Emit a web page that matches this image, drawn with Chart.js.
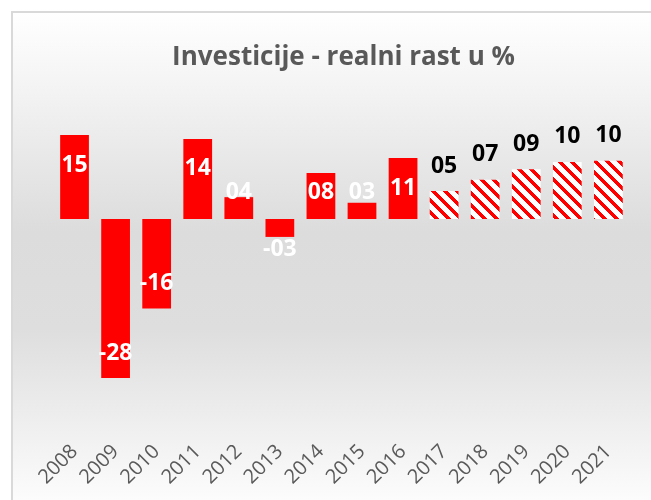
<!DOCTYPE html>
<html>
<head>
<meta charset="utf-8">
<script src="https://cdn.jsdelivr.net/npm/chart.js@4.4.1/dist/chart.umd.min.js"></script>
<style>
  html, body { margin: 0; padding: 0; background: #fff; }
  #wrap { position: relative; width: 651px; height: 500px; }
</style>
</head>
<body>
<div id="wrap"><canvas id="chart" width="651" height="500"></canvas></div>
<script>
// ── Data ─────────────────────────────────────────────────────────────── //
const years     = ['2008', '2009', '2010', '2011', '2012', '2013', '2014',
                   '2015', '2016', '2017', '2018', '2019', '2020', '2021'];
const growth    = [15, -28.4, -16, 14.3, 3.9, -3.2, 8.2, 2.9, 10.9, 5.0, 7.0, 8.9, 10.2, 10.4];
const projected = [false, false, false, false, false, false, false,
                   false, false, true, true, true, true, true];
const chartTitle = 'Investicije - realni rast u %';

const RED = '#ff0000';
const FONT = '"Open Sans", "DejaVu Sans", sans-serif';

// Diagonal red / white stripes for the projection bars
function makeStripes() {
  const size = 12;
  const c = document.createElement('canvas');
  c.width = size; c.height = size;
  const g = c.getContext('2d');
  g.fillStyle = '#ffffff';
  g.fillRect(0, 0, size, size);
  g.fillStyle = RED;
  for (let y = 0; y < size; y++) {
    for (let x = 0; x < size; x++) {
      if (((x - y) % size + size) % size < 5) g.fillRect(x, y, 1, 1);
    }
  }
  return g.createPattern(c, 'repeat');
}

function fmtLabel(v) {
  const n = Math.round(Math.abs(v));
  return (v < 0 ? '-' : '') + (n < 10 ? '0' + n : String(n));
}

// ── Plugins ──────────────────────────────────────────────────────────── //
const cardBackground = {
  id: 'cardBackground',
  beforeDraw(chart) {
    const ctx = chart.ctx;
    const w = chart.width, h = chart.height;
    ctx.save();
    ctx.fillStyle = '#ffffff';
    ctx.fillRect(0, 0, w, h);
    const grad = ctx.createLinearGradient(0, 12, 0, h);
    grad.addColorStop(0, '#ffffff');
    grad.addColorStop(0.15, '#f4f4f4');
    grad.addColorStop(0.45, '#dcdcdc');
    grad.addColorStop(0.65, '#dedede');
    grad.addColorStop(0.85, '#efefef');
    grad.addColorStop(1, '#fcfcfc');
    ctx.fillStyle = grad;
    ctx.fillRect(12, 12, w - 12, h - 12);
    ctx.strokeStyle = '#d9d9d9';
    ctx.lineWidth = 2;
    ctx.beginPath();
    ctx.moveTo(12, h);
    ctx.lineTo(12, 12);
    ctx.lineTo(w, 12);
    ctx.stroke();
    ctx.restore();
  }
};

const barLabels = {
  id: 'barLabels',
  afterDatasetsDraw(chart) {
    const ctx = chart.ctx;
    const meta = chart.getDatasetMeta(0);
    const zero = chart.scales.y.getPixelForValue(0);
    ctx.save();
    ctx.font = 'bold 23px ' + FONT;
    ctx.textAlign = 'center';
    ctx.textBaseline = 'middle';
    meta.data.forEach(function (bar, i) {
      const v = growth[i];
      let y;
      if (projected[i]) {
        ctx.fillStyle = '#000000';
        y = bar.y - 25;
      } else {
        ctx.fillStyle = '#ffffff';
        y = v >= 0 ? Math.min(bar.y + 30, zero - 27) : Math.max(bar.y - 25, zero + 30);
      }
      ctx.fillText(fmtLabel(v), bar.x, y);
    });
    ctx.restore();
  }
};

// ── Chart ────────────────────────────────────────────────────────────── //
const stripes = makeStripes();

new Chart(document.getElementById('chart').getContext('2d'), {
  type: 'bar',
  data: {
    labels: years,
    datasets: [{
      data: growth,
      backgroundColor: projected.map(function (p) { return p ? stripes : RED; }),
      borderWidth: 0,
      barPercentage: 0.7,
      categoryPercentage: 1.0,
    }],
  },
  options: {
    responsive: false,
    animation: false,
    layout: { padding: { left: 54, right: 18, top: 0, bottom: 3 } },
    plugins: {
      legend: { display: false },
      tooltip: { enabled: false },
      title: {
        display: true,
        text: chartTitle,
        color: '#595959',
        font: { family: FONT, size: 26, weight: 'bold' },
        padding: { top: 42, bottom: 33.8 },
      },
    },
    scales: {
      x: {
        grid: { display: false, drawTicks: false },
        border: { display: false },
        ticks: {
          color: '#595959',
          font: { family: FONT, size: 20 },
          minRotation: 45,
          maxRotation: 45,
          padding: 25,
        },
        afterFit: function (scale) { scale.height = 82; },
      },
      y: {
        display: false,
        min: -35,
        max: 20,
      },
    },
  },
  plugins: [cardBackground, barLabels],
});
</script>
</body>
</html>
